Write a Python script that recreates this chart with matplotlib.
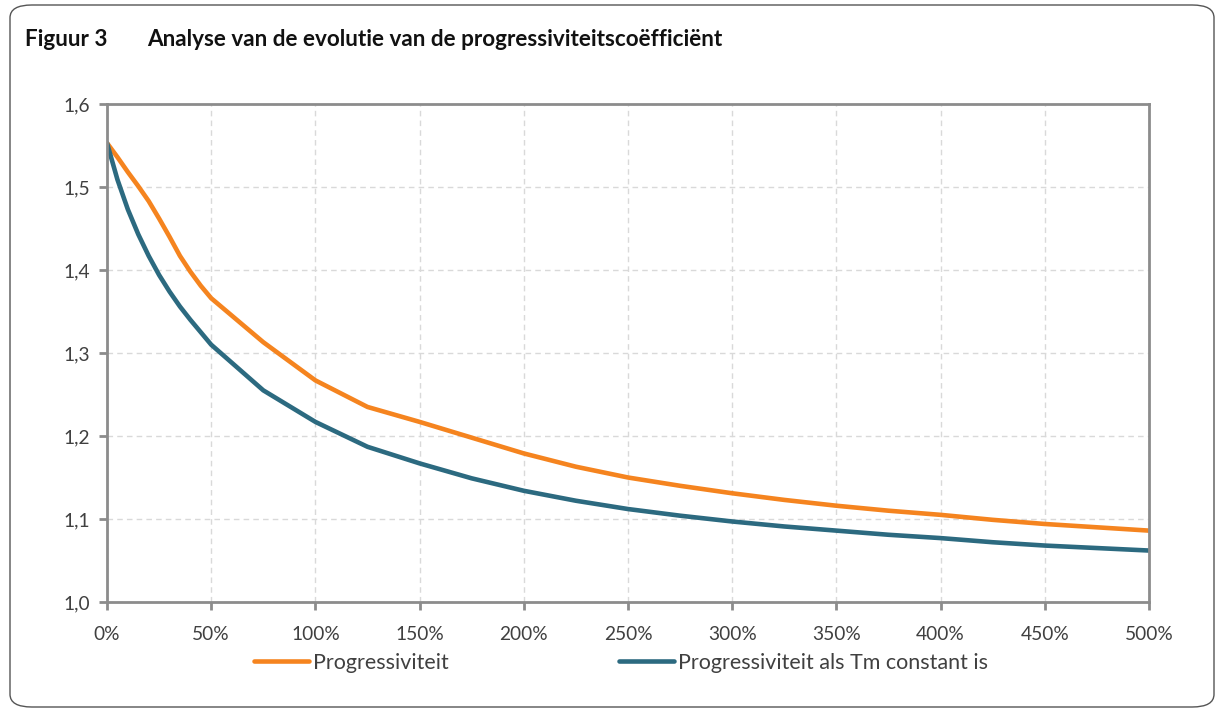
import matplotlib

matplotlib.use("Agg")
import matplotlib.pyplot as plt
from matplotlib.patches import FancyBboxPatch

# Percentage increase (x) and progressivity coefficient for both series
pct = [0, 5, 10, 15, 20, 25, 30, 35, 40, 45, 50, 75, 100, 125, 150, 175, 200,
       225, 250, 275, 300, 325, 350, 375, 400, 425, 450, 475, 500]
progressiviteit = [1.553, 1.536, 1.518, 1.501, 1.483, 1.462, 1.440, 1.417,
                   1.398, 1.381, 1.366, 1.313, 1.267, 1.235, 1.217, 1.198,
                   1.179, 1.163, 1.150, 1.140, 1.131, 1.123, 1.116, 1.110,
                   1.105, 1.099, 1.094, 1.090, 1.086]
progressiviteit_tm = [1.553, 1.509, 1.473, 1.443, 1.417, 1.394, 1.374, 1.356,
                      1.340, 1.325, 1.310, 1.255, 1.217, 1.187, 1.167, 1.149,
                      1.134, 1.122, 1.112, 1.104, 1.097, 1.091, 1.086, 1.081,
                      1.077, 1.072, 1.068, 1.065, 1.062]

x_ticks = list(range(0, 501, 50))
x_labels = [f"{v}%" for v in x_ticks]
y_ticks = [1.0, 1.1, 1.2, 1.3, 1.4, 1.5, 1.6]
y_labels = ["1,0", "1,1", "1,2", "1,3", "1,4", "1,5", "1,6"]

ORANGE = "#f5841f"
BLUE = "#2c6a80"
SPINE = "#8c8c8c"
TEXT = "#404040"

plt.rcParams["font.family"] = ["Lato", "DejaVu Sans"]

W, H = 1215, 708
fig = plt.figure(figsize=(W / 100, H / 100), dpi=100)

# rounded frame around the whole figure
frame = FancyBboxPatch((10 / W, 1 - 707 / H), 1204 / W, 702 / H,
                       transform=fig.transFigure,
                       boxstyle="round,pad=0,rounding_size=0.018",
                       facecolor="none", edgecolor="#555555", linewidth=1.0)
fig.patches.append(frame)

fig.text(25 / W, 1 - 46 / H, "Figuur 3", fontsize=16.2, fontweight="bold",
         color="#111111", va="baseline")
fig.text(147 / W, 1 - 46 / H,
         "Analyse van de evolutie van de progressiviteitscoëfficiënt",
         fontsize=16.2, fontweight="bold", color="#111111", va="baseline")

ax = fig.add_axes([107 / W, 1 - 602 / H, (1149 - 107) / W, (602 - 104) / H])
l1, = ax.plot(pct, progressiviteit, color=ORANGE, lw=3.3, solid_capstyle="round",
              label="Progressiviteit")
l2, = ax.plot(pct, progressiviteit_tm, color=BLUE, lw=3.3, solid_capstyle="round",
              label="Progressiviteit als Tm constant is")

ax.set_xlim(0, 500)
ax.set_ylim(1.0, 1.6)
ax.set_xticks(x_ticks)
ax.set_xticklabels(x_labels)
ax.set_yticks(y_ticks)
ax.set_yticklabels(y_labels)
ax.grid(color="#d9d9d9", ls=(0, (4, 3)), lw=1.0)
ax.set_axisbelow(True)
for s in ax.spines.values():
    s.set_color(SPINE)
    s.set_linewidth(2.0)
ax.tick_params(axis="both", colors=SPINE, length=6, width=2.0, labelcolor=TEXT,
               labelsize=13.8)
ax.tick_params(axis="x", pad=11)
ax.tick_params(axis="y", pad=6)

leg = fig.legend(handles=[l1, l2], loc="center left", ncol=2, frameon=False,
                 bbox_to_anchor=(245 / W, 1 - 663 / H), fontsize=15.5,
                 handlelength=2.55, handletextpad=0.2, columnspacing=7.9,
                 borderaxespad=0)
for t in leg.get_texts():
    t.set_color(TEXT)

fig.savefig("out.png", dpi=100)
